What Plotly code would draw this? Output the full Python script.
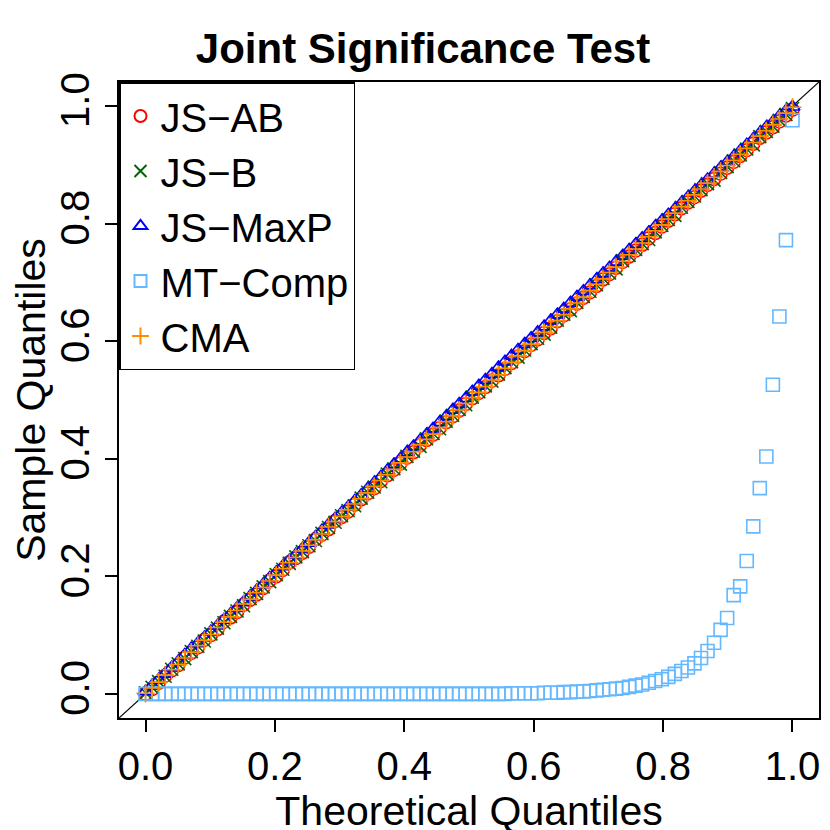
import plotly.graph_objects as go

n = 100
theoretical = [i / (n - 1) for i in range(n)]

js_ab = [0.000,0.008,0.019,0.031,0.040,0.049,0.062,0.070,0.079,0.092,
         0.100,0.110,0.123,0.130,0.139,0.152,0.160,0.169,0.180,0.193,
         0.200,0.211,0.224,0.231,0.240,0.250,0.263,0.271,0.280,0.294,
         0.301,0.310,0.322,0.331,0.341,0.350,0.362,0.372,0.381,0.392,
         0.402,0.411,0.423,0.432,0.441,0.452,0.462,0.472,0.482,0.493,
         0.503,0.512,0.522,0.533,0.542,0.553,0.563,0.574,0.583,0.594,
         0.603,0.614,0.622,0.634,0.644,0.654,0.664,0.674,0.683,0.694,
         0.705,0.714,0.725,0.735,0.744,0.754,0.764,0.775,0.784,0.795,
         0.805,0.816,0.826,0.836,0.845,0.856,0.866,0.876,0.885,0.895,
         0.905,0.915,0.925,0.936,0.946,0.955,0.964,0.974,0.984,0.994]
js_b = [0.002,0.011,0.021,0.030,0.042,0.051,0.060,0.072,0.081,0.090,
        0.102,0.112,0.121,0.132,0.141,0.150,0.162,0.171,0.182,0.191,
        0.203,0.212,0.222,0.233,0.242,0.252,0.261,0.273,0.283,0.292,
        0.303,0.312,0.320,0.333,0.343,0.352,0.361,0.374,0.383,0.391,
        0.404,0.413,0.421,0.434,0.443,0.451,0.464,0.474,0.484,0.492,
        0.505,0.514,0.524,0.532,0.544,0.555,0.565,0.573,0.585,0.596,
        0.605,0.612,0.624,0.636,0.646,0.652,0.666,0.676,0.685,0.696,
        0.707,0.716,0.723,0.737,0.746,0.756,0.766,0.773,0.786,0.797,
        0.807,0.814,0.828,0.838,0.847,0.858,0.868,0.874,0.887,0.897,
        0.907,0.917,0.927,0.934,0.948,0.957,0.966,0.976,0.986,0.996]
js_maxp = [0.004,0.014,0.024,0.034,0.045,0.055,0.066,0.077,0.086,0.096,
           0.106,0.116,0.126,0.136,0.146,0.156,0.166,0.176,0.186,0.197,
           0.207,0.217,0.227,0.237,0.247,0.257,0.267,0.278,0.288,0.298,
           0.308,0.318,0.328,0.338,0.349,0.359,0.369,0.380,0.390,0.400,
           0.411,0.421,0.431,0.441,0.451,0.462,0.472,0.483,0.493,0.503,
           0.514,0.524,0.534,0.544,0.555,0.565,0.575,0.585,0.595,0.605,
           0.615,0.625,0.635,0.645,0.655,0.665,0.675,0.685,0.695,0.705,
           0.715,0.725,0.735,0.745,0.755,0.765,0.775,0.785,0.795,0.805,
           0.815,0.825,0.835,0.845,0.855,0.865,0.875,0.885,0.895,0.905,
           0.914,0.924,0.934,0.944,0.954,0.964,0.973,0.983,0.992,0.999]
cma = [0.001,0.010,0.020,0.032,0.041,0.050,0.061,0.071,0.082,0.091,
       0.101,0.113,0.122,0.131,0.142,0.153,0.161,0.172,0.181,0.192,
       0.202,0.213,0.223,0.232,0.243,0.253,0.262,0.272,0.284,0.293,
       0.302,0.313,0.323,0.332,0.342,0.353,0.363,0.373,0.382,0.393,
       0.403,0.412,0.424,0.433,0.442,0.453,0.463,0.473,0.483,0.494,
       0.504,0.513,0.523,0.534,0.543,0.554,0.564,0.575,0.584,0.595,
       0.606,0.615,0.625,0.635,0.645,0.655,0.665,0.675,0.686,0.697,
       0.706,0.717,0.726,0.736,0.747,0.757,0.767,0.778,0.788,0.798,
       0.808,0.818,0.829,0.839,0.849,0.859,0.869,0.879,0.889,0.899,
       0.908,0.918,0.928,0.938,0.949,0.958,0.968,0.978,0.988,0.998]
mt_comp = [0.000,0.000,0.000,0.000,0.000,0.000,0.000,0.000,0.000,0.000,
           0.000,0.000,0.000,0.000,0.000,0.000,0.000,0.000,0.000,0.000,
           0.000,0.000,0.000,0.000,0.000,0.000,0.000,0.000,0.000,0.000,
           0.000,0.000,0.000,0.000,0.000,0.000,0.000,0.000,0.000,0.000,
           0.000,0.000,0.000,0.000,0.000,0.000,0.000,0.000,0.000,0.000,
           0.000,0.000,0.000,0.000,0.000,0.000,0.001,0.001,0.001,0.001,
           0.001,0.002,0.002,0.002,0.003,0.003,0.004,0.004,0.005,0.006,
           0.007,0.008,0.009,0.010,0.012,0.014,0.016,0.019,0.022,0.025,
           0.029,0.034,0.039,0.045,0.052,0.061,0.073,0.087,0.109,0.129,
           0.168,0.183,0.226,0.285,0.350,0.404,0.526,0.642,0.772,0.976]

series = [
    ("JS\u2212AB", js_ab, "circle-open", "#FF0000"),
    ("JS\u2212B", js_b, "x-thin-open", "#006400"),
    ("JS\u2212MaxP", js_maxp, "triangle-up-open", "#0000FF"),
    ("MT\u2212Comp", mt_comp, "square-open", "#63B8FF"),
    ("CMA", cma, "cross-thin-open", "#FF8C00"),
]

fig = go.Figure()
fig.add_trace(go.Scatter(x=[-0.1, 1.1], y=[-0.1, 1.1], mode="lines",
                         line=dict(color="black", width=1.2), showlegend=False, hoverinfo="skip"))
for name, vals, sym, col in series:
    fig.add_trace(go.Scatter(x=theoretical, y=vals, mode="markers", name=name,
                             marker=dict(symbol=sym, size=13, color=col, line=dict(width=1.6, color=col))))

ticks = [0, 0.2, 0.4, 0.6, 0.8, 1.0]
ticktext = ["0.0", "0.2", "0.4", "0.6", "0.8", "1.0"]
axis_common = dict(range=[-0.041, 1.041], tickvals=ticks, ticktext=ticktext, showgrid=False,
                   zeroline=False, showline=True, linecolor="black", linewidth=1.5, mirror=True,
                   ticks="outside", ticklen=12, tickwidth=1.5, tickcolor="black",
                   automargin=False, tickfont=dict(size=40, color="black"))
fig.update_layout(
    width=830, height=830,
    margin=dict(l=111, r=19, t=74, b=120),
    paper_bgcolor="white", plot_bgcolor="white",
    font=dict(family="Liberation Sans, Arial, sans-serif", color="black"),
    title=dict(text="<b>Joint Significance Test</b>", x=0.5, xanchor="center",
               y=0.952, yanchor="middle", font=dict(size=42, color="black")),
    xaxis=dict(**axis_common, title=dict(text="Theoretical Quantiles", font=dict(size=41), standoff=8)),
    yaxis=dict(**axis_common, tickangle=-90,
               title=dict(text="Sample Quantiles", font=dict(size=41), standoff=8)),
    legend=dict(x=0, y=1, xanchor="left", yanchor="top", bgcolor="white",
                bordercolor="black", borderwidth=1.5, font=dict(size=40),
                itemsizing="constant", tracegroupgap=0),
)
fig.write_html("out.html")
